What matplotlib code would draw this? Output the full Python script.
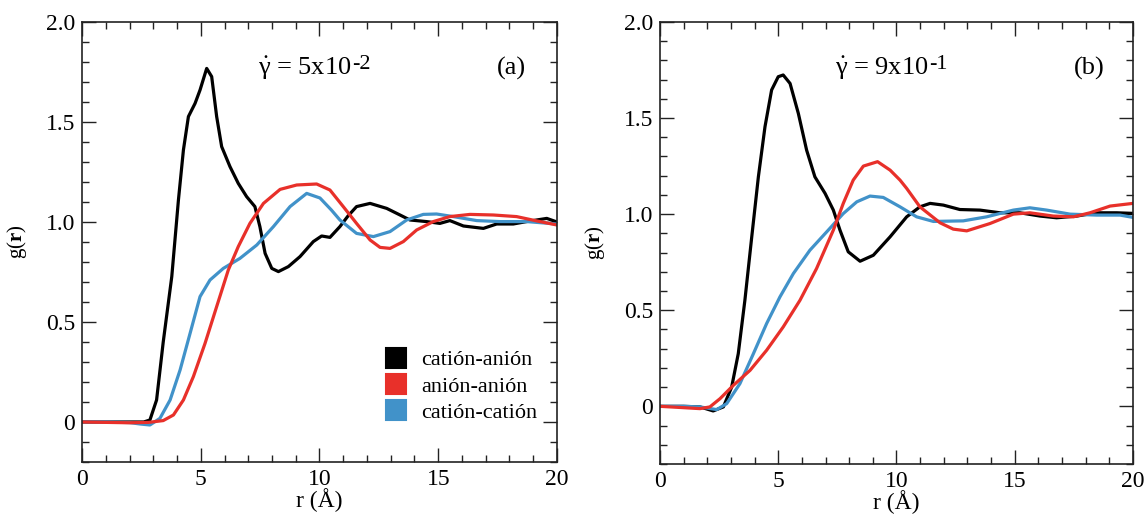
import numpy as np
import matplotlib
matplotlib.use('Agg')
import matplotlib.pyplot as plt
import matplotlib.ticker as ticker
from matplotlib.lines import Line2D

plt.rcParams['font.family'] = ['Liberation Serif', 'DejaVu Serif']
plt.rcParams['mathtext.fontset'] = 'custom'
plt.rcParams['mathtext.rm'] = 'Liberation Serif'
plt.rcParams['mathtext.it'] = 'Liberation Serif'
plt.rcParams['mathtext.bf'] = 'Liberation Serif:bold'

# ---- panel (a), values ----
r_ca_a = [0, 1, 2, 2.6, 2.86, 3.14, 3.42, 3.78, 4.06, 4.27, 4.48, 4.76, 4.97, 5.25, 5.46, 5.67, 5.88,
          6.23, 6.58, 6.93, 7.28, 7.49, 7.71, 7.99, 8.27, 8.69, 9.18, 9.74, 10.09, 10.44, 10.86, 11.2,
          11.56, 12.13, 12.83, 13.39, 13.81, 14.51, 15.07, 15.49, 16.06, 16.9, 17.46, 18.16, 18.72,
          19.57, 20]
g_ca_a = [0, 0, 0, 0, 0.01, 0.11, 0.40, 0.727, 1.11, 1.36, 1.527, 1.593, 1.66, 1.768, 1.727, 1.527,
          1.377, 1.277, 1.193, 1.127, 1.077, 0.977, 0.843, 0.768, 0.752, 0.777, 0.827, 0.902, 0.93,
          0.923, 0.977, 1.03, 1.077, 1.093, 1.068, 1.035, 1.01, 1.002, 0.993, 1.007, 0.98, 0.968, 0.99,
          0.99, 1.002, 1.018, 1.0]

r_aa_a = [0, 1, 2, 2.8, 3.42, 3.85, 4.27, 4.69, 5.18, 5.67, 6.16, 6.58, 7.07, 7.64, 8.34, 9.04, 9.88,
          10.44, 11.0, 11.56, 12.13, 12.55, 12.97, 13.53, 14.09, 14.79, 15.49, 16.34, 17.32, 18.3,
          19.28, 20]
g_aa_a = [0, -0.002, -0.004, -0.002, 0.007, 0.035, 0.11, 0.227, 0.393, 0.577, 0.76, 0.877, 0.993,
          1.093, 1.163, 1.185, 1.19, 1.16, 1.077, 0.993, 0.91, 0.873, 0.868, 0.902, 0.96, 1.002, 1.027,
          1.038, 1.035, 1.027, 1.002, 0.985]

r_cc_a = [0, 1, 2, 2.44, 2.86, 3.28, 3.71, 4.13, 4.55, 4.97, 5.39, 5.95, 6.65, 7.36, 8.06, 8.76, 9.46,
          10.02, 10.5, 10.86, 11.56, 12.27, 12.97, 13.67, 14.37, 14.93, 15.63, 16.62, 17.6, 18.72, 20]
g_cc_a = [0, 0, -0.003, -0.01, -0.015, 0.018, 0.11, 0.26, 0.443, 0.627, 0.71, 0.768, 0.818, 0.885,
          0.977, 1.077, 1.143, 1.12, 1.06, 1.01, 0.943, 0.927, 0.952, 1.01, 1.038, 1.04, 1.027, 1.007,
          1.002, 1.002, 0.99]

# ---- panel (b), values ----
r_ca_b = [0, 1, 1.69, 2.25, 2.68, 3.03, 3.31, 3.59, 3.88, 4.16, 4.44, 4.72, 5.0, 5.21, 5.5, 5.85, 6.2,
          6.55, 6.98, 7.33, 7.61, 7.96, 8.46, 9.02, 9.73, 10.43, 10.99, 11.42, 11.98, 12.68, 13.53,
          14.38, 15.22, 16.07, 16.77, 17.62, 18.46, 19.31, 20]
g_ca_b = [0, 0, -0.003, -0.024, -0.003, 0.1, 0.274, 0.552, 0.882, 1.194, 1.455, 1.646, 1.715, 1.724,
          1.68, 1.524, 1.333, 1.194, 1.108, 1.021, 0.917, 0.804, 0.755, 0.786, 0.882, 0.986, 1.038,
          1.056, 1.047, 1.024, 1.021, 1.007, 1.007, 0.99, 0.981, 0.99, 1.007, 1.007, 1.004]

r_aa_b = [0, 1.0, 1.69, 2.11, 2.54, 3.1, 3.81, 4.51, 5.21, 5.92, 6.62, 7.33, 7.75, 8.17, 8.6, 9.2, 9.73,
          10.15, 10.43, 10.99, 11.84, 12.4, 12.97, 13.95, 14.94, 15.64, 16.63, 17.48, 18.18, 19.03, 20]
g_aa_b = [0, -0.007, -0.012, -0.003, 0.04, 0.109, 0.1875, 0.292, 0.413, 0.552, 0.717, 0.917, 1.056,
          1.177, 1.25, 1.273, 1.229, 1.177, 1.134, 1.038, 0.955, 0.922, 0.913, 0.951, 1.0, 1.007, 0.99,
          0.986, 1.007, 1.042, 1.056]

r_cc_b = [0, 1, 1.69, 2.4, 2.82, 3.38, 3.95, 4.51, 5.07, 5.64, 6.34, 7.05, 7.75, 8.32, 8.88, 9.44,
          10.15, 10.85, 11.56, 12.82, 13.81, 14.94, 15.64, 16.35, 17.34, 18.46, 19.45, 20]
g_cc_b = [0, 0, -0.003, -0.017, 0.014, 0.118, 0.274, 0.431, 0.569, 0.691, 0.8125, 0.908, 1.003,
          1.064, 1.094, 1.087, 1.038, 0.986, 0.962, 0.965, 0.986, 1.021, 1.033, 1.021, 1.0, 0.995,
          0.995, 0.983]

labels = ['catión-anión', 'anión-anión', 'catión-catión']
colors = ['#000000', '#e8302a', '#4192c9']
rates = [r'$\dot{\gamma}$ = 5x10', r'$\dot{\gamma}$ = 9x10']
exps = ['-2', '-1']
panels = ['(a)', '(b)']

fig = plt.figure(figsize=(11.47, 5.14), dpi=100)
ax1 = fig.add_axes([0.0715, 0.1012, 0.4141, 0.856])
ax2 = fig.add_axes([0.5754, 0.0973, 0.4124, 0.86])

data = [
    [(r_ca_a, g_ca_a), (r_aa_a, g_aa_a), (r_cc_a, g_cc_a)],
    [(r_ca_b, g_ca_b), (r_aa_b, g_aa_b), (r_cc_b, g_cc_b)],
]
ylims = [(-0.2, 2.0), (-0.3, 2.0)]


def yfmt(v, _):
    if abs(v) < 1e-9:
        return '0'
    return f'{v:.1f}'


for i, ax in enumerate([ax1, ax2]):
    for j in [0, 2, 1]:
        rr, gg = data[i][j]
        ax.plot(rr, gg, color=colors[j], lw=2.3, solid_joinstyle='round', solid_capstyle='round')
    ax.set_xlim(0, 20)
    ax.set_ylim(*ylims[i])
    ax.xaxis.set_major_locator(ticker.MultipleLocator(5))
    ax.xaxis.set_minor_locator(ticker.MultipleLocator(1))
    ax.yaxis.set_major_locator(ticker.FixedLocator([0, 0.5, 1.0, 1.5, 2.0]))
    ax.yaxis.set_minor_locator(ticker.MultipleLocator(0.1))
    ax.yaxis.set_major_formatter(ticker.FuncFormatter(yfmt))
    ax.tick_params(which='both', direction='in', top=True, right=True, labelsize=17, colors='#222222',
                   labelcolor='black', width=1.0)
    ax.tick_params(which='major', length=10, pad=5)
    ax.tick_params(which='minor', length=5)
    for s in ax.spines.values():
        s.set_linewidth(1.2)
        s.set_color('#222222')
    ax.set_xlabel('r (Å)', fontsize=17, labelpad=-1)
    ax.set_ylabel(r'g($\mathbf{r}$)', fontsize=15, labelpad=12)
    t = ax.text(0.37, 0.88, rates[i], transform=ax.transAxes, fontsize=19, ha='left', va='baseline')
    ax.annotate(exps[i], xy=(1, 0), xycoords=t, xytext=(0.5, 9), textcoords='offset points',
                fontsize=16, ha='left', va='baseline')
    ax.text(0.874, 0.88, panels[i], transform=ax.transAxes, fontsize=19, ha='left', va='baseline')

handles = [Line2D([], [], ls='none', marker='s', markersize=14, markerfacecolor=c,
                  markeredgecolor=c, markeredgewidth=1.5) for c in colors]
ax1.legend(handles, labels, loc='upper left', bbox_to_anchor=(0.615, 0.28), frameon=False,
           fontsize=16, handlelength=1.0, handletextpad=0.6, labelspacing=0.25, borderpad=0)

fig.savefig('out.png', dpi=100)
